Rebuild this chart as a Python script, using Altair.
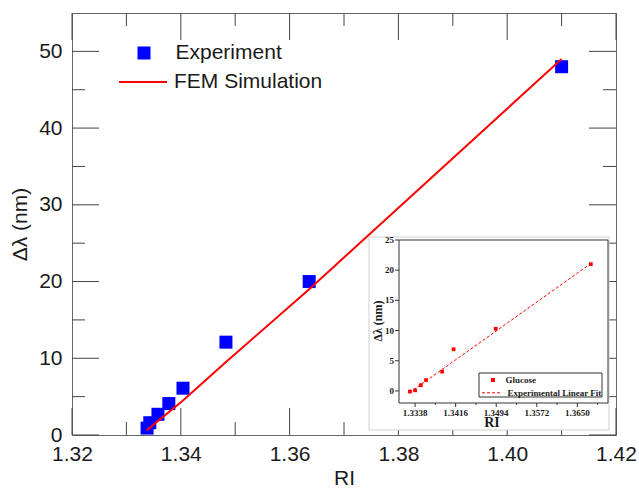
import altair as alt
import pandas as pd

# ---------------- data ----------------
exp_ri = [1.3338, 1.3343, 1.3358, 1.3378, 1.3404, 1.3483, 1.3636, 1.4100]
exp_dl = [0.9, 1.6, 2.7, 4.1, 6.1, 12.1, 20.0, 48.0]

fem_ri = [1.3337, 1.3404, 1.3483, 1.3636, 1.4100]
fem_dl = [0.6, 4.5, 9.5, 19.0, 49.0]

glu_ri = [1.3328, 1.3338, 1.3349, 1.3359, 1.3390, 1.3412, 1.3493, 1.3676]
glu_dl = [-0.1, 0.1, 0.95, 1.8, 3.2, 6.9, 10.3, 21.0]

fit_ri = [1.3327, 1.3676]
fit_dl = [-0.3, 21.1]

x_major = [1.32, 1.34, 1.36, 1.38, 1.40, 1.42]
x_minor = [1.33, 1.35, 1.37, 1.39, 1.41]
y_major = [0, 10, 20, 30, 40, 50]
y_minor = [5, 15, 25, 35, 45]

ix_major = [1.3338, 1.3416, 1.3494, 1.3572, 1.3650]
ix_minor = [1.3377, 1.3455, 1.3533, 1.3611, 1.3689]
iy_major = [0, 5, 10, 15, 20, 25]

exp_df = pd.DataFrame({"RI": exp_ri, "dl": exp_dl, "series": ["Experiment"] * len(exp_ri)})
fem_df = pd.DataFrame({"RI": fem_ri, "dl": fem_dl, "series": ["FEM Simulation"] * len(fem_ri)})
glu_df = pd.DataFrame({"RI": glu_ri, "dl": glu_dl, "series": ["Glucose"] * len(glu_ri)})
fit_df = pd.DataFrame({"RI": fit_ri, "dl": fit_dl, "series": ["Experimental Linear Fit"] * len(fit_ri)})

SANS = "Liberation Sans"
SERIF = "Liberation Serif"
TXT = "#1a1a1a"
TICK = "#444444"
FS = 21

W, H = 544, 422
X0, X1 = 1.32, 1.42
Y0, Y1 = 0, 55

XS = alt.Scale(domain=[X0, X1], range=[0, W], nice=False, zero=False)
YS = alt.Scale(domain=[Y0, Y1], range=[H, 0], nice=False, zero=False)

# ---------------- main plot ----------------
pts = alt.Chart(exp_df).mark_square(size=169, opacity=1).encode(
    x=alt.X("RI:Q", scale=XS, axis=alt.Axis(
        orient="bottom", values=x_major, format=".2f", ticks=False, domain=False, grid=False,
        labelFont=SANS, labelFontSize=FS, labelColor=TXT, labelPadding=8, labelFlush=False,
        labelOverlap=False, title="RI", titleFont=SANS, titleFontSize=FS, titleFontWeight="normal",
        titleColor=TXT, titlePadding=3)),
    y=alt.Y("dl:Q", scale=YS, axis=alt.Axis(
        orient="left", values=y_major, format="d", ticks=False, domain=False, grid=False,
        labelFont=SANS, labelFontSize=FS, labelColor=TXT, labelPadding=10,
        labelOverlap=False, title="Δλ (nm)", titleFont=SANS, titleFontSize=FS,
        titleFontWeight="normal", titleColor=TXT, titlePadding=8)),
    color=alt.Color("series:N", scale=alt.Scale(domain=["Experiment"], range=["#0000ff"]),
                    legend=alt.Legend(orient="none", legendX=61.5, legendY=29.5, title=None,
                                      symbolType="square", symbolSize=169, symbolStrokeWidth=0,
                                      symbolOpacity=1,
                                      labelFont=SANS, labelFontSize=FS, labelColor=TXT,
                                      labelOffset=21, padding=0)),
)

fem = alt.Chart(fem_df).mark_line(strokeWidth=2).encode(
    x=alt.X("RI:Q", scale=XS, axis=None),
    y=alt.Y("dl:Q", scale=YS, axis=None),
    color=alt.Color("series:N", scale=alt.Scale(domain=["FEM Simulation"], range=["#ff0000"]),
                    legend=alt.Legend(orient="none", legendX=46, legendY=44, title=None,
                                      symbolType="stroke", symbolSize=2304, symbolStrokeWidth=2,
                                      labelFont=SANS, labelFontSize=FS, labelColor=TXT,
                                      labelOffset=6, padding=0)),
)


# tick marks: two-point line segments built by a fold, drawn through the scales
def xticks(values, xscale, yscale, a, b, color=TICK):
    return alt.Chart(pd.DataFrame({"tick": values})).transform_calculate(
        lo=str(a), hi=str(b)
    ).transform_fold(["lo", "hi"], as_=["end", "pos"]).mark_line(
        color=color, strokeWidth=1, opacity=1).encode(
        x=alt.X("tick:Q", scale=xscale, axis=None),
        y=alt.Y("pos:Q", scale=yscale, axis=None),
        detail="tick:N")


def yticks(values, xscale, yscale, a, b, color=TICK):
    return alt.Chart(pd.DataFrame({"tick": values})).transform_calculate(
        lo=str(a), hi=str(b)
    ).transform_fold(["lo", "hi"], as_=["end", "pos"]).mark_line(
        color=color, strokeWidth=1, opacity=1, orient="vertical").encode(
        x=alt.X("pos:Q", scale=xscale, axis=None),
        y=alt.Y("tick:Q", scale=yscale, axis=None),
        detail="tick:N")


ky_maj = 27 * (Y1 - Y0) / H
ky_min = 13 * (Y1 - Y0) / H
kx_maj = 27 * (X1 - X0) / W
kx_min = 13 * (X1 - X0) / W

main_ticks = [
    xticks(x_major, XS, YS, Y0, Y0 + ky_maj), xticks(x_minor, XS, YS, Y0, Y0 + ky_min),
    xticks(x_major, XS, YS, Y1 - ky_maj, Y1), xticks(x_minor, XS, YS, Y1 - ky_min, Y1),
    yticks(y_major, XS, YS, X0, X0 + kx_maj), yticks(y_minor, XS, YS, X0, X0 + kx_min),
    yticks(y_major, XS, YS, X1 - kx_maj, X1), yticks(y_minor, XS, YS, X1 - kx_min, X1),
]

# ---------------- inset ----------------
IXL, IXR = 327, 536
IYB, IYT = 390, 227
IX0, IX1 = 1.3307, 1.3709
IY0, IY1 = -2, 25
XI = alt.Scale(domain=[IX0, IX1], range=[IXL, IXR], nice=False, zero=False)
YI = alt.Scale(domain=[IY0, IY1], range=[IYB, IYT], nice=False, zero=False)
iy_px = (IY1 - IY0) / (IYB - IYT)
ix_px = (IX1 - IX0) / (IXR - IXL)

one = pd.DataFrame({"a": [0]})

inset_bg = alt.Chart(one).mark_rect(fill="white", stroke="#d0d0d0", strokeWidth=1).encode(
    x=alt.value(297), x2=alt.value(537), y=alt.value(224), y2=alt.value(417))

inset_frame = alt.Chart(one).mark_rect(fill="white", fillOpacity=0, stroke="#333333",
                                       strokeWidth=1).encode(
    x=alt.value(IXL), x2=alt.value(IXR), y=alt.value(IYT), y2=alt.value(IYB))

ix_tick = xticks(ix_major, XI, YI, IY0 - 4 * iy_px, IY0, "#333333")
ix_mtick = xticks(ix_minor, XI, YI, IY0 - 2 * iy_px, IY0, "#333333")
iy_tick = yticks(iy_major, XI, YI, IX0 - 4 * ix_px, IX0, "#333333")

ix_lab = alt.Chart(pd.DataFrame({"v": ix_major})).mark_text(
    font=SERIF, fontWeight="bold", fontSize=9, color=TXT, baseline="middle", align="center").encode(
    x=alt.X("v:Q", scale=XI, axis=None), y=alt.value(IYB + 10),
    text=alt.Text("v:Q", format=".4f"))

iy_lab = alt.Chart(pd.DataFrame({"v": iy_major})).mark_text(
    font=SERIF, fontWeight="bold", fontSize=9, color=TXT, baseline="middle", align="right").encode(
    y=alt.Y("v:Q", scale=YI, axis=None), x=alt.value(IXL - 5),
    text=alt.Text("v:Q", format="d"))

ix_title = alt.Chart(one).mark_text(
    text="RI", font=SERIF, fontWeight="bold", fontSize=14, color=TXT,
    baseline="alphabetic", align="center").encode(x=alt.value(420), y=alt.value(414))

iy_title = alt.Chart(one).mark_text(
    text="Δλ (nm)", font=SERIF, fontWeight="bold", fontSize=12, color=TXT,
    baseline="middle", align="center", angle=270).encode(x=alt.value(306), y=alt.value(308))

legend_box = alt.Chart(one).mark_rect(fill="white", stroke="#333333", strokeWidth=1).encode(
    x=alt.value(407), x2=alt.value(530), y=alt.value(360), y2=alt.value(384))

glu = alt.Chart(glu_df).mark_square(size=14, opacity=1).encode(
    x=alt.X("RI:Q", scale=XI, axis=None),
    y=alt.Y("dl:Q", scale=YI, axis=None),
    color=alt.Color("series:N", scale=alt.Scale(domain=["Glucose"], range=["#ff0000"]),
                    legend=alt.Legend(orient="none", legendX=416.5, legendY=362.5, title=None,
                                      symbolType="square", symbolSize=16, symbolStrokeWidth=0,
                                      symbolOpacity=1,
                                      labelFont=SERIF, labelFontWeight="bold", labelFontSize=9,
                                      labelColor=TXT, labelOffset=8, padding=0)),
)

fit = alt.Chart(fit_df).mark_line(strokeWidth=1, strokeDash=[3, 2]).encode(
    x=alt.X("RI:Q", scale=XI, axis=None),
    y=alt.Y("dl:Q", scale=YI, axis=None),
    color=alt.Color("series:N", scale=alt.Scale(domain=["Experimental Linear Fit"], range=["#ff0000"]),
                    legend=alt.Legend(orient="none", legendX=409.5, legendY=369.3, title=None,
                                      symbolType="stroke", symbolSize=400, symbolStrokeWidth=1,
                                      symbolDash=[3, 2],
                                      labelFont=SERIF, labelFontWeight="bold", labelFontSize=9,
                                      labelColor=TXT, labelOffset=5, padding=0)),
)

layers = [pts, fem] + main_ticks + [inset_bg, inset_frame, ix_tick, ix_mtick, iy_tick,
                                    ix_lab, iy_lab, ix_title, iy_title, legend_box, glu, fit]

chart = alt.layer(*layers).resolve_scale(
    x="independent", y="independent", color="independent"
).properties(
    width=W, height=H,
    autosize=alt.AutoSizeParams(type="none"),
    padding={"left": 72, "top": 13, "right": 23, "bottom": 56},
    background="white",
).configure_view(stroke="#666666", strokeWidth=1)

chart.save("out.html", embed_options={"renderer": "svg", "actions": False})
